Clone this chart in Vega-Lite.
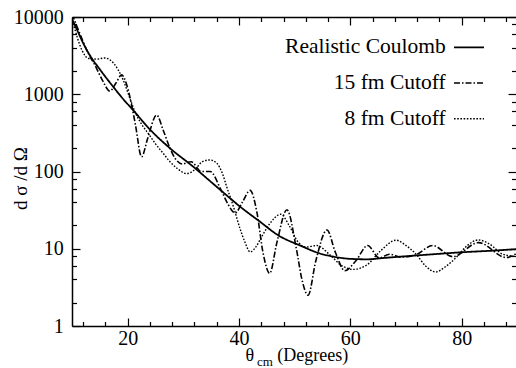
{
  "$schema": "https://vega.github.io/schema/vega-lite/v6.json",
  "width": 444,
  "height": 309,
  "autosize": {"type": "none"},
  "padding": {"left": 72, "top": 17, "right": 0, "bottom": 42},
  "background": "white",
  "config": {
    "view": {"stroke": null},
    "font": "Liberation Serif, Times New Roman, Times, DejaVu Serif, serif",
    "axis": {
      "grid": false,
      "domainColor": "black",
      "domainWidth": 1.5,
      "tickColor": "black",
      "tickWidth": 1.2,
      "labelColor": "black",
      "titleColor": "black",
      "labelFont": "Liberation Serif, Times New Roman, Times, DejaVu Serif, serif",
      "titleFont": "Liberation Serif, Times New Roman, Times, DejaVu Serif, serif",
      "titleFontWeight": "normal"
    },
    "legend": {
      "labelFont": "Liberation Serif, Times New Roman, Times, DejaVu Serif, serif"
    }
  },
  "data": {
    "values": [
      {"s": "Realistic Coulomb", "x": 10, "y": 9400},
      {"s": "Realistic Coulomb", "x": 11, "y": 6600},
      {"s": "Realistic Coulomb", "x": 12, "y": 4600},
      {"s": "Realistic Coulomb", "x": 13.2, "y": 3200},
      {"s": "Realistic Coulomb", "x": 15, "y": 2100},
      {"s": "Realistic Coulomb", "x": 17.4, "y": 1250},
      {"s": "Realistic Coulomb", "x": 19, "y": 900},
      {"s": "Realistic Coulomb", "x": 21, "y": 620},
      {"s": "Realistic Coulomb", "x": 24, "y": 350},
      {"s": "Realistic Coulomb", "x": 27.6, "y": 200},
      {"s": "Realistic Coulomb", "x": 31.8, "y": 115},
      {"s": "Realistic Coulomb", "x": 35, "y": 73},
      {"s": "Realistic Coulomb", "x": 38.4, "y": 45},
      {"s": "Realistic Coulomb", "x": 40, "y": 36},
      {"s": "Realistic Coulomb", "x": 43.8, "y": 22.3},
      {"s": "Realistic Coulomb", "x": 47, "y": 15},
      {"s": "Realistic Coulomb", "x": 51, "y": 11},
      {"s": "Realistic Coulomb", "x": 54.5, "y": 8.7},
      {"s": "Realistic Coulomb", "x": 57, "y": 7.9},
      {"s": "Realistic Coulomb", "x": 60, "y": 7.4},
      {"s": "Realistic Coulomb", "x": 63, "y": 7.3},
      {"s": "Realistic Coulomb", "x": 66, "y": 7.6},
      {"s": "Realistic Coulomb", "x": 70, "y": 8.0},
      {"s": "Realistic Coulomb", "x": 75, "y": 8.5},
      {"s": "Realistic Coulomb", "x": 80, "y": 9.0},
      {"s": "Realistic Coulomb", "x": 85, "y": 9.4},
      {"s": "Realistic Coulomb", "x": 90, "y": 9.9},

      {"s": "15 fm Cutoff", "x": 10, "y": 11000},
      {"s": "15 fm Cutoff", "x": 11, "y": 7200},
      {"s": "15 fm Cutoff", "x": 12, "y": 4800},
      {"s": "15 fm Cutoff", "x": 13, "y": 3300},
      {"s": "15 fm Cutoff", "x": 14.1, "y": 2400},
      {"s": "15 fm Cutoff", "x": 15.5, "y": 1500},
      {"s": "15 fm Cutoff", "x": 16.8, "y": 1100},
      {"s": "15 fm Cutoff", "x": 17.9, "y": 1400},
      {"s": "15 fm Cutoff", "x": 18.9, "y": 1780},
      {"s": "15 fm Cutoff", "x": 19.8, "y": 1350},
      {"s": "15 fm Cutoff", "x": 20.7, "y": 730},
      {"s": "15 fm Cutoff", "x": 21.4, "y": 400},
      {"s": "15 fm Cutoff", "x": 22.5, "y": 155},
      {"s": "15 fm Cutoff", "x": 23.6, "y": 270},
      {"s": "15 fm Cutoff", "x": 25.2, "y": 537},
      {"s": "15 fm Cutoff", "x": 26.4, "y": 340},
      {"s": "15 fm Cutoff", "x": 27.6, "y": 200},
      {"s": "15 fm Cutoff", "x": 28.6, "y": 145},
      {"s": "15 fm Cutoff", "x": 29.8, "y": 125},
      {"s": "15 fm Cutoff", "x": 31.4, "y": 134},
      {"s": "15 fm Cutoff", "x": 33.2, "y": 100},
      {"s": "15 fm Cutoff", "x": 34.8, "y": 100},
      {"s": "15 fm Cutoff", "x": 36.8, "y": 57},
      {"s": "15 fm Cutoff", "x": 38, "y": 38},
      {"s": "15 fm Cutoff", "x": 39.3, "y": 29},
      {"s": "15 fm Cutoff", "x": 40.6, "y": 40},
      {"s": "15 fm Cutoff", "x": 42, "y": 57},
      {"s": "15 fm Cutoff", "x": 43.2, "y": 30},
      {"s": "15 fm Cutoff", "x": 44.3, "y": 9},
      {"s": "15 fm Cutoff", "x": 45.5, "y": 4.8},
      {"s": "15 fm Cutoff", "x": 46.8, "y": 12},
      {"s": "15 fm Cutoff", "x": 48.6, "y": 32},
      {"s": "15 fm Cutoff", "x": 50.3, "y": 10},
      {"s": "15 fm Cutoff", "x": 51.3, "y": 4},
      {"s": "15 fm Cutoff", "x": 52.4, "y": 2.5},
      {"s": "15 fm Cutoff", "x": 53.8, "y": 7},
      {"s": "15 fm Cutoff", "x": 55.8, "y": 17.5},
      {"s": "15 fm Cutoff", "x": 57.3, "y": 9},
      {"s": "15 fm Cutoff", "x": 59, "y": 5.2},
      {"s": "15 fm Cutoff", "x": 61, "y": 7},
      {"s": "15 fm Cutoff", "x": 63.1, "y": 11},
      {"s": "15 fm Cutoff", "x": 65.2, "y": 7.6},
      {"s": "15 fm Cutoff", "x": 67, "y": 8.5},
      {"s": "15 fm Cutoff", "x": 69.2, "y": 7.8},
      {"s": "15 fm Cutoff", "x": 71.5, "y": 8.2},
      {"s": "15 fm Cutoff", "x": 74.8, "y": 11},
      {"s": "15 fm Cutoff", "x": 78.4, "y": 7.9},
      {"s": "15 fm Cutoff", "x": 83, "y": 12},
      {"s": "15 fm Cutoff", "x": 88, "y": 7.7},
      {"s": "15 fm Cutoff", "x": 90, "y": 8.8},

      {"s": "8 fm Cutoff", "x": 10, "y": 9000},
      {"s": "8 fm Cutoff", "x": 10.5, "y": 7000},
      {"s": "8 fm Cutoff", "x": 11, "y": 5300},
      {"s": "8 fm Cutoff", "x": 11.8, "y": 3700},
      {"s": "8 fm Cutoff", "x": 13, "y": 2900},
      {"s": "8 fm Cutoff", "x": 14.5, "y": 2850},
      {"s": "8 fm Cutoff", "x": 15.9, "y": 2950},
      {"s": "8 fm Cutoff", "x": 17.5, "y": 2500},
      {"s": "8 fm Cutoff", "x": 19.2, "y": 1530},
      {"s": "8 fm Cutoff", "x": 20.4, "y": 885},
      {"s": "8 fm Cutoff", "x": 21.3, "y": 593},
      {"s": "8 fm Cutoff", "x": 22.5, "y": 410},
      {"s": "8 fm Cutoff", "x": 24, "y": 290},
      {"s": "8 fm Cutoff", "x": 25, "y": 228},
      {"s": "8 fm Cutoff", "x": 26.3, "y": 175},
      {"s": "8 fm Cutoff", "x": 27.6, "y": 134},
      {"s": "8 fm Cutoff", "x": 29, "y": 108},
      {"s": "8 fm Cutoff", "x": 30.6, "y": 94},
      {"s": "8 fm Cutoff", "x": 32, "y": 105},
      {"s": "8 fm Cutoff", "x": 33.5, "y": 135},
      {"s": "8 fm Cutoff", "x": 34.8, "y": 141},
      {"s": "8 fm Cutoff", "x": 36, "y": 128},
      {"s": "8 fm Cutoff", "x": 37, "y": 95},
      {"s": "8 fm Cutoff", "x": 37.8, "y": 63},
      {"s": "8 fm Cutoff", "x": 39, "y": 35},
      {"s": "8 fm Cutoff", "x": 40.2, "y": 18},
      {"s": "8 fm Cutoff", "x": 41, "y": 12.5},
      {"s": "8 fm Cutoff", "x": 42, "y": 9.1},
      {"s": "8 fm Cutoff", "x": 43, "y": 10.5},
      {"s": "8 fm Cutoff", "x": 44, "y": 14},
      {"s": "8 fm Cutoff", "x": 45.5, "y": 21},
      {"s": "8 fm Cutoff", "x": 47.5, "y": 28},
      {"s": "8 fm Cutoff", "x": 49, "y": 20},
      {"s": "8 fm Cutoff", "x": 50.5, "y": 12.5},
      {"s": "8 fm Cutoff", "x": 52, "y": 10.5},
      {"s": "8 fm Cutoff", "x": 54, "y": 11},
      {"s": "8 fm Cutoff", "x": 56.2, "y": 8.5},
      {"s": "8 fm Cutoff", "x": 58.5, "y": 6.0},
      {"s": "8 fm Cutoff", "x": 60.5, "y": 5.4},
      {"s": "8 fm Cutoff", "x": 63, "y": 6.2},
      {"s": "8 fm Cutoff", "x": 65.5, "y": 9.5},
      {"s": "8 fm Cutoff", "x": 68.2, "y": 12.9},
      {"s": "8 fm Cutoff", "x": 70, "y": 11},
      {"s": "8 fm Cutoff", "x": 71.8, "y": 8.5},
      {"s": "8 fm Cutoff", "x": 73.5, "y": 6},
      {"s": "8 fm Cutoff", "x": 75.3, "y": 5.0},
      {"s": "8 fm Cutoff", "x": 77, "y": 5.8},
      {"s": "8 fm Cutoff", "x": 79, "y": 7.7},
      {"s": "8 fm Cutoff", "x": 81, "y": 11},
      {"s": "8 fm Cutoff", "x": 83, "y": 13},
      {"s": "8 fm Cutoff", "x": 85, "y": 11.5},
      {"s": "8 fm Cutoff", "x": 87.4, "y": 8.5},
      {"s": "8 fm Cutoff", "x": 90, "y": 7.9}
    ]
  },
  "layer": [
    {
      "mark": {"type": "line", "color": "black", "interpolate": "monotone", "clip": true, "strokeCap": "butt"},
      "encoding": {
        "x": {
          "field": "x", "type": "quantitative",
          "scale": {"domain": [10, 89.75], "nice": false, "zero": false},
          "axis": {
            "orient": "bottom", "values": [20, 40, 60, 80], "tickSize": -8,
            "labelPadding": 10, "labelFontSize": 20, "domain": true,
            "title": "(Degrees)", "titleFontSize": 18, "titleX": 204.7, "titleY": 34.7,
            "titleAlign": "left", "titleBaseline": "alphabetic", "titleAngle": 0
          }
        },
        "y": {
          "field": "y", "type": "quantitative",
          "scale": {"type": "log", "domain": [1, 10000], "nice": false},
          "axis": {
            "orient": "left", "values": [1, 10, 100, 1000, 10000], "format": "d", "tickSize": -8,
            "labelPadding": 16.7, "labelFontSize": 20, "domain": true,
            "title": "d σ /d Ω", "titleFontSize": 19, "titleX": -45.3, "titleY": 161,
            "titleAlign": "center", "titleBaseline": "alphabetic", "titleAngle": 270
          }
        },
        "strokeDash": {
          "field": "s", "type": "nominal",
          "scale": {"domain": ["Realistic Coulomb", "15 fm Cutoff", "8 fm Cutoff"], "range": [[1, 0], [6, 2, 1.5, 2], [1.6, 1.6]]},
          "legend": {
            "orient": "none", "legendX": 343.7, "legendY": 14.4, "title": null,
            "padding": 0, "labelAlign": "right", "labelOffset": -39.3, "symbolOffset": 37.3,
            "symbolType": "stroke", "symbolSize": 900, "symbolStrokeWidth": 1.5,
            "symbolStrokeColor": "black", "labelFontSize": 21.5,
            "labelColor": "black", "rowPadding": 8.65, "labelLimit": 300, "labelBaseline": "middle"
          }
        },
        "strokeWidth": {
          "field": "s", "type": "nominal",
          "scale": {"domain": ["Realistic Coulomb", "15 fm Cutoff", "8 fm Cutoff"], "range": [1.8, 1.4, 1.8]},
          "legend": null
        }
      }
    },
    {
      "mark": {"type": "line", "opacity": 0},
      "encoding": {
        "x": {
          "field": "x", "type": "quantitative",
          "scale": {"domain": [10, 89.75], "nice": false, "zero": false},
          "axis": {
            "orient": "bottom", "values": [12, 16, 24, 28, 32, 36, 44, 48, 52, 56, 64, 68, 72, 76, 84, 88],
            "tickSize": -4.5, "labels": false, "domain": false,
            "title": "θ", "titleFontSize": 18, "titleX": 173, "titleY": 34.7,
            "titleAlign": "left", "titleBaseline": "alphabetic", "titleAngle": 0
          }
        },
        "y": {
          "field": "y", "type": "quantitative",
          "scale": {"type": "log", "domain": [1, 10000], "nice": false},
          "axis": {
            "orient": "left", "values": [2, 4, 6, 8, 20, 40, 60, 80, 200, 400, 600, 800, 2000, 4000, 6000, 8000],
            "tickSize": -4.5, "labels": false, "domain": false, "title": null
          }
        },
        "detail": {"field": "s", "type": "nominal"}
      }
    },
    {
      "mark": {"type": "line", "opacity": 0},
      "encoding": {
        "x": {
          "field": "x", "type": "quantitative",
          "scale": {"domain": [10, 89.75], "nice": false, "zero": false},
          "axis": {
            "orient": "top", "values": [20, 40, 60, 80], "tickSize": -8,
            "labels": false, "domain": true,
            "title": "cm", "titleFontSize": 13, "titleX": 184.5, "titleY": 348.2,
            "titleAlign": "left", "titleBaseline": "alphabetic", "titleAngle": 0
          }
        },
        "y": {
          "field": "y", "type": "quantitative",
          "scale": {"type": "log", "domain": [1, 10000], "nice": false},
          "axis": {
            "orient": "right", "values": [1, 10, 100, 1000, 10000], "tickSize": -8,
            "labels": false, "domain": false, "title": null
          }
        },
        "detail": {"field": "s", "type": "nominal"}
      }
    },
    {
      "mark": {"type": "line", "opacity": 0},
      "encoding": {
        "x": {
          "field": "x", "type": "quantitative",
          "scale": {"domain": [10, 89.75], "nice": false, "zero": false},
          "axis": {
            "orient": "top", "values": [12, 16, 24, 28, 32, 36, 44, 48, 52, 56, 64, 68, 72, 76, 84, 88],
            "tickSize": -4.5, "labels": false, "domain": false, "title": null
          }
        },
        "y": {
          "field": "y", "type": "quantitative",
          "scale": {"type": "log", "domain": [1, 10000], "nice": false},
          "axis": {
            "orient": "right", "values": [2, 4, 6, 8, 20, 40, 60, 80, 200, 400, 600, 800, 2000, 4000, 6000, 8000],
            "tickSize": -4.5, "labels": false, "domain": false, "title": null
          }
        },
        "detail": {"field": "s", "type": "nominal"}
      }
    }
  ],
  "resolve": {"axis": {"x": "independent", "y": "independent"}}
}
